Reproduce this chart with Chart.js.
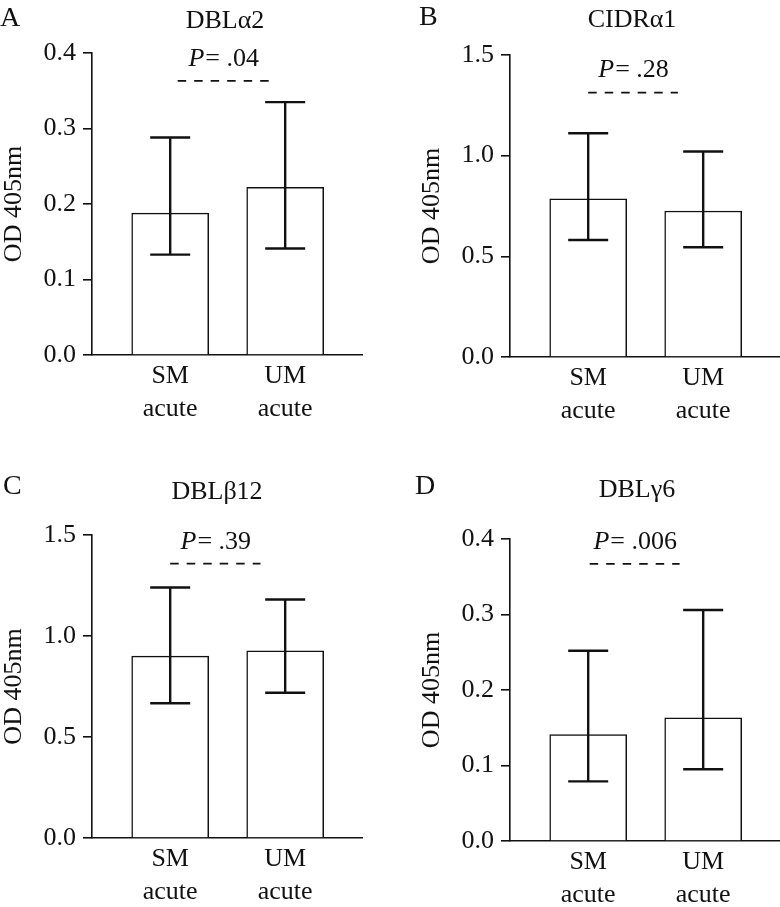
<!DOCTYPE html>
<html>
<head>
<meta charset="utf-8">
<script src="https://cdn.jsdelivr.net/npm/chart.js@4.4.1/dist/chart.umd.min.js"></script>
<style>
  html, body { margin: 0; padding: 0; background: #fff; }
  body { width: 780px; height: 907px; position: relative; overflow: hidden; }
  canvas { position: absolute; }
</style>
</head>
<body>
<canvas id="panelA" width="390" height="450" style="left:0px;top:0px"></canvas>
<canvas id="panelB" width="390" height="450" style="left:390px;top:0px"></canvas>
<canvas id="panelC" width="390" height="457" style="left:0px;top:450px"></canvas>
<canvas id="panelD" width="390" height="457" style="left:390px;top:450px"></canvas>
<script>
const categories = [["SM", "acute"], ["UM", "acute"]];

// mean OD and error bar ends, per antigen
const dbla2Mean = [0.188, 0.222];
const dbla2Lower = [0.133, 0.141];
const dbla2Upper = [0.288, 0.335];

const cidra1Mean = [0.785, 0.725];
const cidra1Lower = [0.581, 0.545];
const cidra1Upper = [1.111, 1.021];

const dblb12Mean = [0.900, 0.926];
const dblb12Lower = [0.667, 0.719];
const dblb12Upper = [1.240, 1.181];

const dblg6Mean = [0.141, 0.163];
const dblg6Lower = [0.079, 0.095];
const dblg6Upper = [0.252, 0.306];

const pValues = [".04", ".28", ".39", ".006"];
const pLineLevel = [0.363, 1.313, 1.358, 0.367];
const yMaxima = [0.4, 1.5, 1.5, 0.4];
const ySteps = [0.1, 0.5, 0.5, 0.1];

const ink = "#111";
const serif = '"Liberation Serif", "Times New Roman", serif';

Chart.defaults.font.family = serif;
Chart.defaults.color = ink;

const panelExtras = {
  id: "panelExtras",
  afterDatasetsDraw(chart, args, opts) {
    const ctx = chart.ctx;
    const xs = chart.scales.x;
    const ys = chart.scales.y;
    ctx.save();
    ctx.strokeStyle = ink;
    ctx.fillStyle = ink;

    // error bars
    ctx.lineWidth = 2.4;
    opts.lower.forEach((lo, i) => {
      const x = xs.getPixelForValue(i);
      const y1 = ys.getPixelForValue(lo);
      const y2 = ys.getPixelForValue(opts.upper[i]);
      ctx.beginPath();
      ctx.moveTo(x, y1);
      ctx.lineTo(x, y2);
      ctx.moveTo(x - 20, y1);
      ctx.lineTo(x + 20, y1);
      ctx.moveTo(x - 20, y2);
      ctx.lineTo(x + 20, y2);
      ctx.stroke();
    });

    // dashed comparison line
    const dy = ys.getPixelForValue(opts.dashY);
    const dx1 = xs.getPixelForValue(opts.dashFrom);
    const dx2 = xs.getPixelForValue(opts.dashTo);
    ctx.lineWidth = 1.7;
    ctx.setLineDash([8.5, 8]);
    ctx.beginPath();
    ctx.moveTo(dx1, dy);
    ctx.lineTo(dx2, dy);
    ctx.stroke();
    ctx.setLineDash([]);

    // P value
    ctx.textBaseline = "middle";
    ctx.textAlign = "left";
    ctx.font = "italic 26px " + serif;
    const wP = ctx.measureText("P").width;
    ctx.font = "26px " + serif;
    const rest = "= " + opts.p;
    const wR = ctx.measureText(rest).width;
    const cx = (dx1 + dx2) / 2;
    let tx = cx - (wP + wR) / 2;
    ctx.font = "italic 26px " + serif;
    ctx.fillText("P", tx, dy - 22);
    ctx.font = "26px " + serif;
    ctx.fillText(rest, tx + wP + 1, dy - 22);

    // panel letter and title
    ctx.font = "28px " + serif;
    ctx.textAlign = "left";
    ctx.fillText(opts.letter, opts.letterX, opts.letterY);
    ctx.font = "26px " + serif;
    ctx.textAlign = "center";
    ctx.fillText(opts.title, opts.titleX, opts.titleY);
    ctx.restore();
  },
};

function makePanel(id, k, mean, lower, upper, extras, pad) {
  return new Chart(document.getElementById(id), {
    type: "bar",
    data: {
      datasets: [
        {
          data: mean.map((v, i) => ({ x: i, y: v })),
          backgroundColor: "#fff",
          borderColor: ink,
          borderWidth: 1.5,
          barThickness: 77,
        },
      ],
    },
    options: {
      responsive: false,
      animation: false,
      events: [],
      layout: { padding: pad },
      scales: {
        x: {
          type: "linear",
          offset: false,
          min: -0.68,
          max: 1.668,
          afterBuildTicks: (axis) => {
            axis.ticks = categories.map((c, i) => ({ value: i }));
          },
          afterFit: (scale) => {
            scale.height = 65;
          },
          ticks: {
            callback: (v) => categories[v],
            font: { size: 26, lineHeight: 1.27 },
            color: ink,
            padding: 5,
            maxRotation: 0,
            autoSkip: false,
          },
          grid: { drawOnChartArea: false, drawTicks: false },
          border: { color: ink, width: 1.6 },
        },
        y: {
          min: 0,
          max: yMaxima[k],
          afterFit: (scale) => {
            scale.width = 92;
          },
          ticks: {
            stepSize: ySteps[k],
            callback: (v) => v.toFixed(1),
            font: { size: 26 },
            color: ink,
            padding: 7,
          },
          grid: {
            drawOnChartArea: false,
            drawTicks: true,
            tickLength: 9,
            color: ink,
            lineWidth: 1.6,
          },
          border: { color: ink, width: 1.6 },
          title: {
            display: true,
            text: "OD 405nm",
            font: { size: 26, lineHeight: 1.1 },
            color: ink,
            padding: 0,
          },
        },
      },
      plugins: {
        legend: { display: false },
        tooltip: { enabled: false },
        panelExtras: Object.assign(
          { lower: lower, upper: upper, p: pValues[k], dashY: pLineLevel[k] },
          extras
        ),
      },
    },
    plugins: [panelExtras],
  });
}

makePanel("panelA", 0, dbla2Mean, dbla2Lower, dbla2Upper,
  { letter: "A", letterX: 0, letterY: 19, title: "DBLα2", titleX: 225, titleY: 21, dashFrom: 0.065, dashTo: 0.857 },
  { left: 0, right: 28, top: 53, bottom: 30 });

makePanel("panelB", 1, cidra1Mean, cidra1Lower, cidra1Upper,
  { letter: "B", letterX: 29, letterY: 18, title: "CIDRα1", titleX: 242, titleY: 20, dashFrom: 0.0, dashTo: 0.78 },
  { left: 28, right: 0, top: 55, bottom: 28 });

makePanel("panelC", 2, dblb12Mean, dblb12Lower, dblb12Upper,
  { letter: "C", letterX: 3, letterY: 37, title: "DBLβ12", titleX: 217, titleY: 42, dashFrom: 0.0, dashTo: 0.785 },
  { left: 0, right: 28, top: 85, bottom: 4 });

makePanel("panelD", 3, dblg6Mean, dblg6Lower, dblg6Upper,
  { letter: "D", letterX: 25, letterY: 37, title: "DBLγ6", titleX: 247, titleY: 40, dashFrom: 0.013, dashTo: 0.795 },
  { left: 28, right: 0, top: 89, bottom: 1 });
</script>
</body>
</html>
